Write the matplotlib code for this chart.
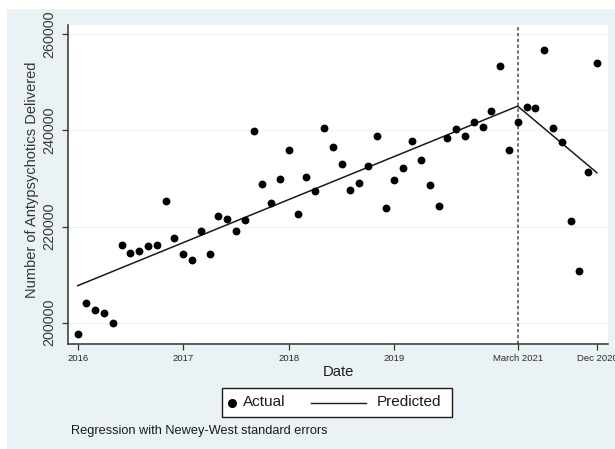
import numpy as np
import matplotlib
matplotlib.use("Agg")
import matplotlib.pyplot as plt
from matplotlib.patches import Rectangle
from matplotlib.lines import Line2D

plt.rcParams['font.family'] = ['Liberation Sans', 'DejaVu Sans']

# ---- data (monthly, Jan 2016 .. Dec 2020) ----
month_index = np.arange(60)
actual = [197650, 204020, 202650, 201940, 199930, 216100, 214580, 214850, 216040, 216100,
          225410, 217560, 214370, 212980, 219160, 214230, 222140, 221660, 219160, 221310,
          239850, 228890, 224930, 230000, 235970, 222560, 230410, 227500, 240480, 236460,
          233120, 227710, 229100, 232560, 238890, 223810, 229790, 232230, 237850, 233890,
          228750, 224370, 238330, 240270, 238750, 241720, 240620, 244020, 253470, 235970,
          241660, 244930, 244650, 256800, 240410, 237560, 221250, 210690, 231390, 254100]
pred_x = [0, 50, 59]
pred_y = [207700, 245050, 231200]
break_month = 50
xtick_pos = [0, 12, 24, 36, 50, 59]
xtick_labels = ['2016', '2017', '2018', '2019', 'March 2021', 'Dec 2020']
ytick_vals = [200000, 220000, 240000, 260000]

W, H = 615, 449
fig = plt.figure(figsize=(W / 100, H / 100), dpi=100)
fig.patch.set_facecolor('white')
bg = Rectangle((7 / W, 0), 608 / W, 440 / H, transform=fig.transFigure,
               facecolor='#EAF2F5', edgecolor='none', zorder=-10)
fig.patches.append(bg)

ax = fig.add_axes([68 / W, (H - 344) / H, 540 / W, 319 / H])
ax.set_zorder(1)
ax.set_facecolor('white')

for v in ytick_vals:
    ax.axhline(v, color='#EEF3F6', lw=0.9, zorder=0)

ax.plot(pred_x, pred_y, color='#1a1a1a', lw=1.1, zorder=2)
ax.scatter(month_index, actual, s=32, color='black', zorder=3, linewidths=0)
ax.axvline(break_month, color='#4a4a4a', lw=1.1, linestyle=(0, (2.2, 1.6)), zorder=1)

ax.set_xlim(-1.10, 60.26)
ax.set_ylim(195570, 261934)

ax.set_xticks(xtick_pos)
ax.set_xticklabels(xtick_labels, fontsize=6.8, color='#2a2a2a')
ax.set_yticks(ytick_vals)
ax.set_yticklabels([str(v) for v in ytick_vals], fontsize=10.4, color='#3a3a3a',
                   rotation=90, va='center')
ax.tick_params(axis='both', direction='out', length=4.5, width=0.9, color='#333333')
ax.tick_params(axis='x', pad=3)
ax.tick_params(axis='y', pad=4)

for s in ['top', 'right']:
    ax.spines[s].set_visible(False)
for s in ['left', 'bottom']:
    ax.spines[s].set_color('#333333')
    ax.spines[s].set_linewidth(1.1)

ax.set_xlabel('Date', fontsize=10.6, color='#1a1a1a', labelpad=1)
ax.set_ylabel('Number of Antypsychotics Delivered', fontsize=10.5, color='#333333')
ax.yaxis.set_label_coords(-0.0537, 0.5157)

# ---- legend (drawn in figure pixel coordinates) ----
def fx(px):
    return px / W

def fy(py):
    return 1 - py / H

box = Rectangle((fx(222), fy(417)), fx(452) - fx(222), fy(388) - fy(417),
                transform=fig.transFigure, facecolor='white', edgecolor='#1a1a1a',
                lw=1.0, zorder=5)
fig.patches.append(box)
fig.add_artist(Line2D([fx(232)], [fy(402.5)], marker='o', markersize=5.5, color='black',
                      linestyle='none', transform=fig.transFigure, zorder=6))
fig.text(fx(243), fy(402.5), 'Actual', fontsize=11, va='center', ha='left', color='#1a1a1a', zorder=6)
fig.add_artist(Line2D([fx(311), fx(366)], [fy(402.5), fy(402.5)], color='#1a1a1a', lw=1.0,
                      transform=fig.transFigure, zorder=6))
fig.text(fx(377), fy(402.5), 'Predicted', fontsize=11, va='center', ha='left', color='#1a1a1a', zorder=6)

fig.text(fx(71), fy(431), 'Regression with Newey-West standard errors', fontsize=9.2,
         va='center', ha='left', color='#1a1a1a')

fig.savefig('out.png', dpi=100, facecolor=fig.get_facecolor())
